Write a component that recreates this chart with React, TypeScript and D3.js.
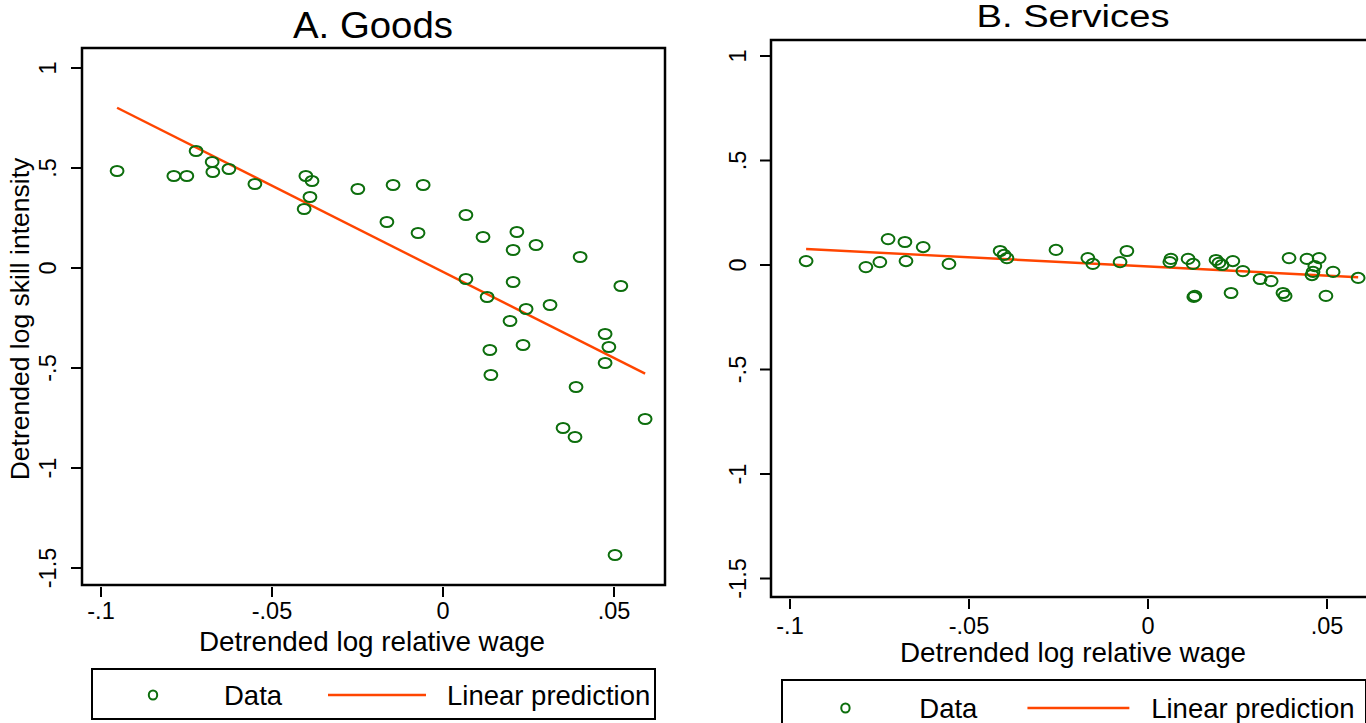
import React from 'react';
import * as d3 from 'd3';

// Panel A: goods sector
const goodsWage = [
  -0.0953, -0.0787, -0.0749, -0.0722, -0.0675, -0.0673, -0.0626, -0.055, -0.0406, -0.0401,
  -0.0389, -0.0383, -0.0249, -0.0164, -0.0146, -0.0073, -0.0058, 0.0067, 0.0067, 0.0117,
  0.0129, 0.0137, 0.014, 0.0196, 0.0205, 0.0205, 0.0216, 0.0234, 0.0243, 0.0272,
  0.0313, 0.0351, 0.0389, 0.0386, 0.0401, 0.0474, 0.0474, 0.0485, 0.0503, 0.052, 0.0591,
];
const goodsSkill = [
  0.485, 0.46, 0.46, 0.585, 0.53, 0.48, 0.495, 0.42, 0.295, 0.46,
  0.355, 0.435, 0.395, 0.23, 0.415, 0.175, 0.415, 0.265, -0.055, 0.155,
  -0.145, -0.41, -0.535, -0.265, 0.09, -0.07, 0.18, -0.385, -0.205, 0.115,
  -0.185, -0.8, -0.595, -0.845, 0.055, -0.33, -0.475, -0.395, -1.435, -0.09, -0.755,
];

// Panel B: services sector
const servicesWage = [
  -0.0955, -0.0788, -0.0749, -0.0726, -0.0679, -0.0676, -0.0628, -0.0556, -0.0413, -0.0402,
  -0.0394, -0.0257, -0.0168, -0.0154, -0.0078, -0.0059, 0.0061, 0.0064, 0.0112, 0.0126,
  0.0131, 0.0128, 0.019, 0.0198, 0.0207, 0.0237, 0.0265, 0.0232, 0.0313, 0.0344,
  0.0377, 0.0383, 0.0394, 0.0444, 0.0478, 0.0466, 0.0461, 0.0458, 0.0517, 0.0497, 0.0587,
];
const servicesSkill = [
  0.019, -0.01, 0.014, 0.124, 0.11, 0.019, 0.086, 0.005, 0.067, 0.048,
  0.033, 0.072, 0.033, 0.005, 0.014, 0.067, 0.014, 0.029, 0.029, 0.005,
  -0.148, -0.153, 0.024, 0.01, 0, 0.019, -0.029, -0.134, -0.067, -0.077,
  -0.134, -0.148, 0.033, 0.029, 0.033, -0.005, -0.033, -0.048, -0.033, -0.148, -0.062,
];

const xTicks = [-0.1, -0.05, 0, 0.05];
const yTicks = [1, 0.5, 0, -0.5, -1, -1.5];

const GREEN = '#0d6e0d';
const ORANGE = '#ff4500';
const FONT = '"Liberation Sans", Arial, sans-serif';

// stata style labels: .5, -.05
const fmt = (v: number) => {
  if (v === 0) return '0';
  return String(v).replace(/^(-?)0\./, '$1.');
};

const fitLine = (xs: number[], ys: number[]) => {
  const mx = d3.mean(xs) as number;
  const my = d3.mean(ys) as number;
  let sxy = 0, sxx = 0;
  xs.forEach((x, i) => {
    sxy += (x - mx) * (ys[i] - my);
    sxx += (x - mx) * (x - mx);
  });
  const b = sxy / sxx;
  const a = my - b * mx;
  const [lo, hi] = d3.extent(xs) as [number, number];
  return [lo, hi].map((x) => ({ x, y: a + b * x }));
};

type Box = { l: number; t: number; r: number; b: number };

type PanelProps = {
  title: string;
  titleX: number;
  titleY: number;
  titleSize: number;
  titleLen: number;
  xs: number[];
  ys: number[];
  frame: Box;
  xRange: [number, number];
  yRange: [number, number];
  yLabelX: number;
  xLabelY: number;
  xTitleX: number;
  xTitleY: number;
  yTitle?: string;
  legend: Box;
  legendY: number;
  k: number; // legend spacing factor
};

const Panel = (p: PanelProps) => {
  const x = d3.scaleLinear().domain([-0.1, 0.05]).range(p.xRange);
  const y = d3.scaleLinear().domain([1, -1.5]).range(p.yRange);
  const fit = fitLine(p.xs, p.ys);
  const line = d3.line<{ x: number; y: number }>().x((d) => x(d.x)).y((d) => y(d.y));
  const f = p.frame;
  const lg = p.legend;
  const ly = p.legendY;
  const k = p.k;

  return (
    <g fontFamily={FONT} fill="#000">
      <text
        x={p.titleX}
        y={p.titleY}
        fontSize={p.titleSize}
        textAnchor="middle"
        textLength={p.titleLen}
        lengthAdjust="spacingAndGlyphs"
      >
        {p.title}
      </text>
      <rect x={f.l} y={f.t} width={f.r - f.l} height={f.b - f.t} fill="none" stroke="#000" strokeWidth={2.5} />
      {yTicks.map((t) => (
        <g key={'y' + t}>
          <line x1={f.l - 11} x2={f.l} y1={y(t)} y2={y(t)} stroke="#000" strokeWidth={2} />
          <text transform={`translate(${p.yLabelX},${y(t)}) rotate(-90)`} fontSize={23.5} textAnchor="middle">
            {fmt(t)}
          </text>
        </g>
      ))}
      {xTicks.map((t) => (
        <g key={'x' + t}>
          <line x1={x(t)} x2={x(t)} y1={f.b + 2} y2={f.b + 12} stroke="#000" strokeWidth={2} />
          <text x={x(t)} y={p.xLabelY} fontSize={23.5} textAnchor="middle">
            {fmt(t)}
          </text>
        </g>
      ))}
      <text x={p.xTitleX} y={p.xTitleY} fontSize={27.8} textAnchor="middle">
        Detrended log relative wage
      </text>
      {p.yTitle && (
        <text transform={`translate(29,319) rotate(-90)`} fontSize={26.5} textAnchor="middle">
          {p.yTitle}
        </text>
      )}
      <path d={line(fit) || ''} fill="none" stroke={ORANGE} strokeWidth={2.4} />
      {p.xs.map((v, i) => (
        <ellipse
          key={i}
          cx={x(v)}
          cy={y(p.ys[i])}
          rx={6.4}
          ry={5.1}
          fill="none"
          stroke={GREEN}
          strokeWidth={2}
        />
      ))}
      <rect x={lg.l} y={lg.t} width={lg.r - lg.l} height={lg.b - lg.t} fill="#fff" stroke="#000" strokeWidth={2} />
      <ellipse cx={lg.l + 61 * k} cy={ly} rx={4.2} ry={4.6} fill="none" stroke={GREEN} strokeWidth={2} />
      <text x={lg.l + 132 * k} y={ly + 10} fontSize={27.5}>
        Data
      </text>
      <line x1={lg.l + 236 * k} x2={lg.l + 334 * k} y1={ly} y2={ly} stroke={ORANGE} strokeWidth={2.4} />
      <text x={lg.l + 355 * k} y={ly + 10} fontSize={27.5}>
        Linear prediction
      </text>
    </g>
  );
};

export default function App() {
  return (
    <svg width={1366} height={723} style={{ position: 'absolute', left: 0, top: 0, background: '#fff' }}>
      <rect width={1366} height={723} fill="#fff" />
      <Panel
        title="A. Goods"
        titleX={373}
        titleY={38}
        titleSize={36}
        titleLen={160}
        xs={goodsWage}
        ys={goodsSkill}
        frame={{ l: 82, t: 48, r: 665, b: 585 }}
        xRange={[101, 614]}
        yRange={[68, 568]}
        yLabelX={56}
        xLabelY={619}
        xTitleX={372}
        xTitleY={651}
        yTitle="Detrended log skill intensity"
        legend={{ l: 92, t: 669, r: 655, b: 719 }}
        legendY={695}
        k={1}
      />
      <Panel
        title="B. Services"
        titleX={1073}
        titleY={27}
        titleSize={31}
        titleLen={193}
        xs={servicesWage}
        ys={servicesSkill}
        frame={{ l: 771, t: 40, r: 1370, b: 597 }}
        xRange={[790, 1327]}
        yRange={[56, 578.5]}
        yLabelX={746}
        xLabelY={634}
        xTitleX={1073}
        xTitleY={662}
        legend={{ l: 782, t: 680, r: 1366, b: 735 }}
        legendY={708}
        k={1.04}
      />
    </svg>
  );
}
